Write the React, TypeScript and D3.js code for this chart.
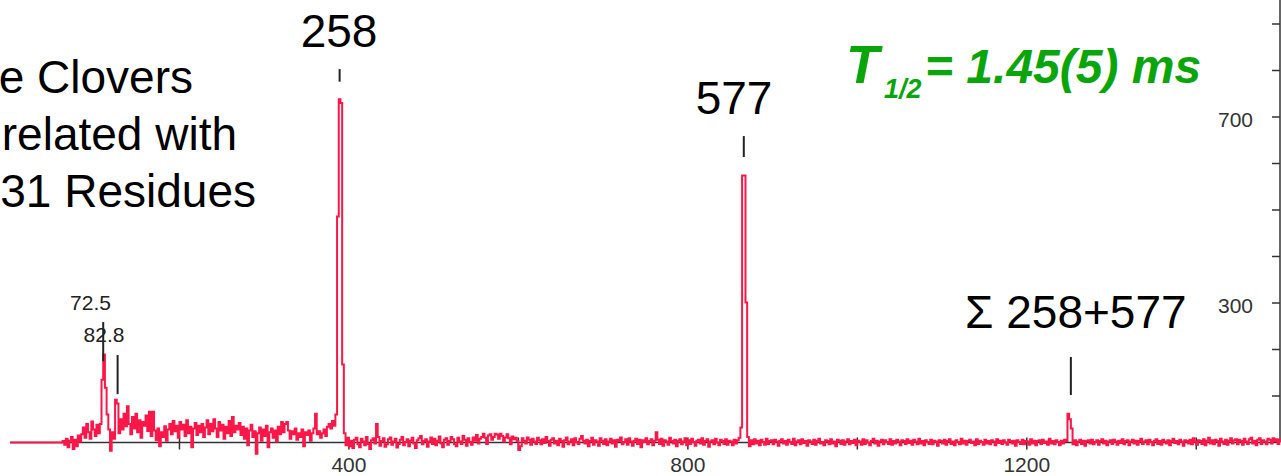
import React from "react";
import * as d3 from "d3";

// Spectrum in 2-channel bins, background subtracted.
// lowBins: channels 0-400, highBins: channels 400-1500.
const BIN = 2;
const HIGH_START = 400;
const lowBins: number[] = [
  0, 0, 0, 0, 0, 0, 0, 0, 0, 0, 0, 0, 0, 0, 0, 0, 0, 0, 0, 0, 0, 0, 0, 0, 0, 0, 0, 0, 0, 0, 0,
  3, -5, 8, -10, 4, 12, -14, 6, -8, 15, 2, 18,
  32, 10, 40, 22, 8, 45, 28, 14, 38, 20,
  40, 135, 189, 118, 60,
  28, -18, 22, 8,
  92, 84, 20,
  50, 28, 62, 35, 78, 40, 18, 55, 30, 62, 22, 48, 10, 44, 36, 58, 25, 66, 14, 66,
  26, 5, 30, -8, 22, 12, 35, 4, 28,
  40, 18, 46, 24, 36, 10, 44, 28, 38, 14, 48, 20, 34, -10, 30, 42, 16, 36, 22, 40, 12,
  32, 48, 18, 40, 24, 50, 30, 12, 44, 26, 38, 8, 34, 20, 46, 14, 55, 22, 36, 28, 42,
  16, 34, 8, 30, -6, 26, 38, 12, 24, -24, 20, 32, 4, 28, 14, 36, -10, 22, 30, 10, 26, 2, 34, 18, 44,
  22, 40, 44, 26, 8, 24, 18, 30, 6, 20, 12, 28, -8, 22, 16, 26, 4, 20, 30,
  62, 18, 24, 10, 20, 28, 14, 34, 40, 30, 46, 36,
  60, 486, 738, 730, 168, 20, -6, 10,
];
const highBins: number[] = [
  -8, 4, -12, 6, 10, -4, -10, 8, 2, -6, 12, -3, -14, 5, 9, -2, 40, 12, -7, 3, 9, -9, -4, 7, 11,
  -5, 2, 8, -11, -3, 6, 12, -6, 1, 7, -8, 4, 10, -2, -12, 5, 9, 14, -4, 3, 7, -9, 2, 11, -3,
  8, -6, 4, 13, -2, -10, 6, 9, -5, 3, 12, 7, -4, -8, 10, 2, -3, 14, 6, -7, 9, 1, -5, 11, 4,
  16, -2, 8, 12, 19, 10, -3, 15, 18, 6, 12, 19, 17, 8, 19, 14, 2, 11, 18, 9, -4, 13, 7, 10, 3,
  -16, -8, 9, 4, -2, 11, 6, -5, 8, 2, -3, 10, 5, -4, 7, -1, 12, 3, -7, 6, 9, -2, 4, -6, 8,
  3, -9, 5, 11, -4, 2, 7, -6, 9, 1, -3, 8, 14, 4, -2, 6, -8, 3, 10, -5, 5, 2, -7, 9, 4,
  -3, 7, -6, 2, 8, -2, 5, -9, 6, 3, 11, -4, 1, 7, -5, 9, 2, -7, 4, 8, -3, 6, -10, 5, 1,
  9, -4, 3, 7, -6, 4, 22, 6, -3, 8, -7, 5, 2, -5, 10, 3, -2, 6, -8, 4, 7, -4, 2, 9, -6,
  5, -3, 8, 1, -7, 4, 6, -2, 9, -5, 3, 7, -9, 2, 5, -4, 8, 0, -6, 6, 3, -3, 7, -5, 4,
  2, -6, 6, -2, 5, 10, 32, 574, 574, 301, 12, -8, 5, -4, 7, -2, 4, -6, 6, 1, -5, 8, -3, 3, 5,
  -4, 6, 2, -7, 4, 7, -2, 3, -5, 6, 1, -3, 8, -6, 2, 5, -4, 7, -1, 3, -7, 5, 2, -3, 6,
  -5, 4, 8, -2, 1, -6, 5, 3, -4, 7, -2, 2, -8, 6, 4, -3, 5, -5, 2, 7, -4, 3, -1, 6, -6,
  4, 2, -5, 7, -3, 5, 0, -6, 3, 8, -2, 4, -7, 2, 6, -4, 5, 1, -3, 7, -5, 3, -2, 6, 2,
  -6, 5, 3, -3, 7, -1, 4, -5, 6, 2, -4, 8, -2, 3, -6, 5, 1, -3, 6, -4, 4, 2, -7, 5, 3,
  -2, 6, -5, 3, 7, -3, 2, -6, 5, 1, -4, 8, -2, 4, -5, 3, 6, -1, 2, -6, 7, -3, 4, 1, -5,
  6, -2, 3, -4, 5, 2, -6, 7, -1, 4, -3, 5, 0, -5, 6, 3, -2, 4, -7, 5, 1, -3, 6, -4, 3,
  2, -5, 7, -2, 4, -6, 3, 5, -3, 6, -1, 2, -5, 8, -2, 3, -4, 5, 1, -6, 4, -2, 6, 3, 62,
  50, 30, -4, 5, -6, 2, 6, -3, 4, -7, 3, 5, -2, 6, -4, 1, 5, -5, 3, 7, -2, 4, -6, 2, 5,
  -3, 6, 2, -5, 4, -1, 7, -4, 3, 5, -6, 2, 6, -2, 4, -5, 3, 8, -3, 2, 5, -4, 6, 1, -6,
  4, 7, -3, 3, -5, 6, 2, -2, 5, -6, 4, 8, -1, 3, -4, 6, 2, -7, 5, 3, -2, 6, -4, 9, 2,
  -5, 5, 3, -3, 7, -6, 4, 10, -2, 5, -4, 6, 3, -7, 8, 2, -3, 6, -5, 4, 9, -2, 5, 7, -4,
  6, 3, -5, 8, 2, -3, 7, 10, -2, 4, -6, 6, 9, -3, 5, 2, -4, 8, 6, -2, 9, 3, 7, -3, 6,
];

// Axis ticks
const xTicks: number[] = [200, 400, 600, 800, 1000, 1200, 1400];
const xTickLabels: number[] = [400, 800, 1200];
const yTicks: number[] = [100, 200, 300, 400, 500, 600, 700, 800, 900];
const yTickLabels: number[] = [300, 700];

// Peak markers: channel and the count range the marker spans
const markerChannels: number[] = [110, 127, 389, 866, 1252];
const markerTops: number[] = [259, 188, 803, 659, 184];
const markerBottoms: number[] = [175, 104, 776, 614, 102];

const W = 1281;
const H = 476;
const RED = "#fc1748";
const FONT = "'Liberation Sans', Arial, Helvetica, sans-serif";

export default function App() {
  const x = d3.scaleLinear().domain([0, 1500]).range([10, 1281]);
  const y = d3.scaleLinear().domain([0, 950]).range([442.5, 0.75]);

  const pts: [number, number][] = [
    ...lowBins.map((v, i): [number, number] => [i * BIN, v]),
    ...highBins.map((v, j): [number, number] => [HIGH_START + j * BIN, v]),
  ];
  pts.push([HIGH_START + highBins.length * BIN, highBins[highBins.length - 1]]);
  const line = d3
    .line<[number, number]>()
    .x((d) => x(d[0]))
    .y((d) => y(d[1]))
    .curve(d3.curveStepAfter);

  const axisY = y(0);
  const axisX = x(1500) - 1;

  return (
    <div style={{ position: "absolute", left: 0, top: 0 }}>
      <svg width={W} height={H} style={{ display: "block", background: "#fff" }} fontFamily={FONT}>
        {/* text block on the left */}
        <g fontSize={46} fill="#000" textAnchor="end">
          <text x={193} y={93}>e Clovers</text>
          <text x={237} y={150}>related with</text>
          <text x={256} y={207}>31 Residues</text>
        </g>

        {/* bottom axis */}
        <line x1={x(0)} x2={axisX} y1={axisY} y2={axisY} stroke="#333" strokeWidth={1.5} />
        {xTicks.map((t) => (
          <line key={t} x1={x(t)} x2={x(t)} y1={axisY - 5} y2={axisY + 7} stroke="#333" strokeWidth={1.5} />
        ))}
        {xTickLabels.map((t) => (
          <text key={t} x={x(t)} y={472} fontSize={21} fill="#333" textAnchor="middle">
            {t}
          </text>
        ))}

        {/* right axis */}
        <line x1={axisX} x2={axisX} y1={0} y2={axisY} stroke="#333" strokeWidth={1.5} />
        {yTicks.map((t) => (
          <line key={t} x1={axisX - 8} x2={axisX} y1={y(t)} y2={y(t)} stroke="#333" strokeWidth={1.5} />
        ))}
        {yTickLabels.map((t) => (
          <text key={t} x={1253} y={y(t) + 10} fontSize={21} fill="#333" textAnchor="end">
            {t}
          </text>
        ))}

        {/* spectrum */}
        <path d={line(pts) ?? ""} fill="none" stroke={RED} strokeWidth={2} strokeLinejoin="miter" />

        {/* peak markers */}
        {markerChannels.map((c, i) => (
          <line
            key={c}
            x1={x(c)}
            x2={x(c)}
            y1={y(markerTops[i])}
            y2={y(markerBottoms[i])}
            stroke="#222"
            strokeWidth={2}
          />
        ))}

        {/* peak labels */}
        <g fill="#222" fontSize={21} textAnchor="middle">
          <text x={90.5} y={310}>72.5</text>
          <text x={104} y={342}>82.8</text>
        </g>
        <g fill="#000" fontSize={46}>
          <text x={339} y={47} textAnchor="middle">258</text>
          <text x={734} y={114} textAnchor="middle">577</text>
          <text x={965} y={328}>Σ 258+577</text>
        </g>

        {/* half-life */}
        <text fill="#0aa50a" fontWeight="bold" fontStyle="italic" fontSize={48}>
          <tspan x={846} y={83} fontSize={54}>T</tspan>
          <tspan x={884} y={98} fontSize={27}>1/2</tspan>
          <tspan x={925} y={83}>= 1.45(5) ms</tspan>
        </text>
      </svg>
    </div>
  );
}
